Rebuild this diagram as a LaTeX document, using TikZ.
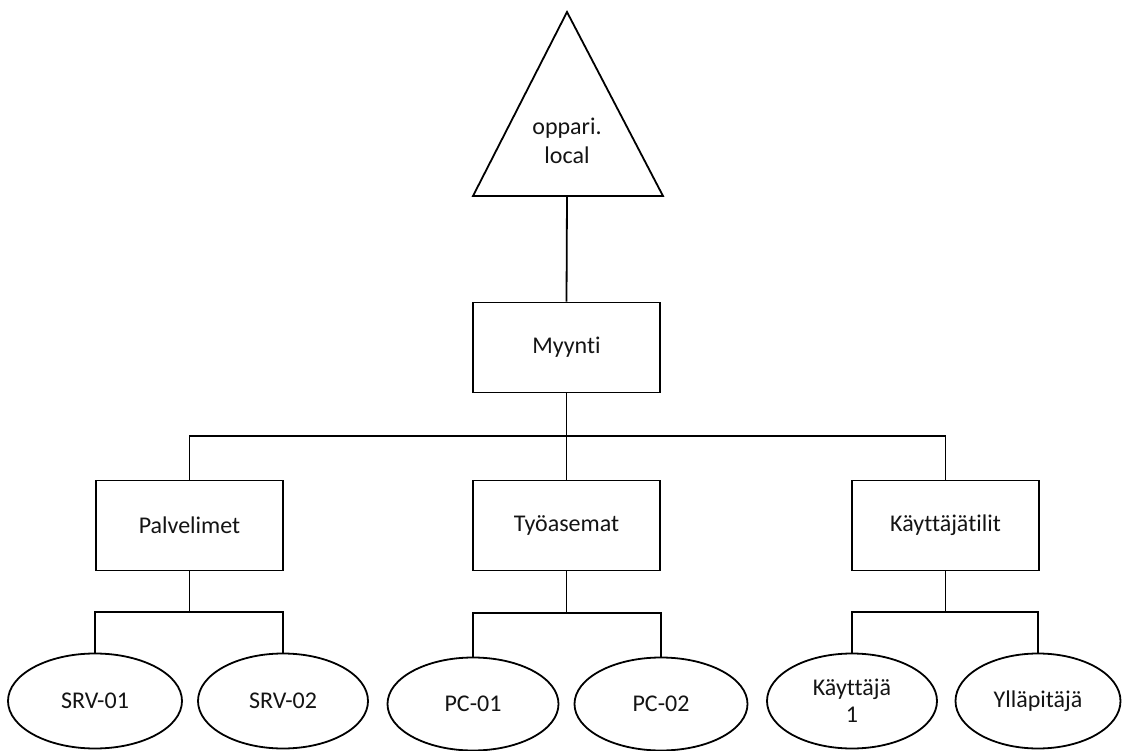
\documentclass[tikz,border=0pt]{standalone}
\usepackage{fontspec}
\setmainfont[Ligatures={NoCommon,NoDiscretionary}]{Carlito}
\usetikzlibrary{shapes.geometric}
\begin{document}
\begin{tikzpicture}[x=1pt,y=-1pt,
  every node/.style={font=\fontsize{24}{28}\selectfont, text=black!92},
  box/.style={draw, line width=1.8pt, minimum width=187pt, minimum height=90pt, inner sep=0pt},
  oval/.style={draw, ellipse, line width=1.8pt, minimum width=172pt, minimum height=95pt, inner sep=0pt, align=center},
  conn/.style={line width=1.8pt}]
\useasboundingbox (0,0) rectangle (1122,751);
% triangle
\coordinate (apex) at (567,12);
\coordinate (bl) at (473,196);
\coordinate (br) at (663,196);
\coordinate (tribase) at (567,196);
\draw[conn, line join=miter] (apex) -- (bl) -- (br) -- cycle;
\node[align=center, font=\fontsize{24}{29}\selectfont] (dom) at (567,141) {oppari.\\local};
% boxes
\node[box] (myy) at (566.5,347.5) {Myynti};
\node[box] (palv) at (189.5,525.5) {Palvelimet};
\node[box] (tyo) at (566.5,525.5) {Työasemat};
\node[box] (kayt) at (945.5,525.5) {Käyttäjätilit};
% ovals
\node[oval, minimum width=174pt] (srv1) at (95,701) {SRV-01};
\node[oval, minimum width=170pt] (srv2) at (283,701) {SRV-02};
\node[oval, minimum width=171pt, minimum height=93pt] (pc1) at (473,704) {PC-01};
\node[oval, minimum width=173pt, minimum height=93pt] (pc2) at (661,704) {PC-02};
\node[oval, minimum width=170pt, font=\fontsize{24}{27}\selectfont] (k1) at (852,701) {Käyttäjä\\1};
\node[oval, minimum width=165pt] (yll) at (1038,701) {Ylläpitäjä};
% connectors
\draw[conn] (tribase) -- (myy.north);
\draw[conn] (myy.south) -- (tyo.north);
\draw[conn] (palv.north) -- ++(0,-44) -| (kayt.north);
\draw[conn] (palv.south) -- ++(0,42);
\draw[conn] (srv1.north) -- ++(0,-41) -| (srv2.north);
\draw[conn] (tyo.south) -- ++(0,43);
\draw[conn] (pc1.north) -- ++(0,-44) -| (pc2.north);
\draw[conn] (kayt.south) -- ++(0,42);
\draw[conn] (k1.north) -- ++(0,-41) -| (yll.north);
\end{tikzpicture}
\end{document}
